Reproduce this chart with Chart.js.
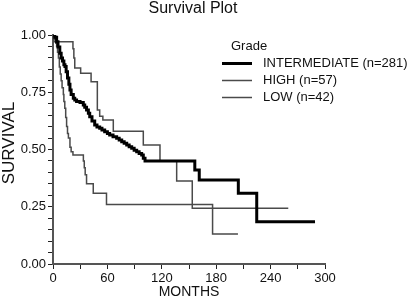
<!DOCTYPE html>
<html>
<head>
<meta charset="utf-8">
<script src="https://cdn.jsdelivr.net/npm/chart.js@4.4.1/dist/chart.umd.min.js"></script>
<style>
  html, body { margin: 0; padding: 0; background: #fff; }
  canvas { display: block; }
</style>
</head>
<body>
<canvas id="chart" width="408" height="299"></canvas>
<script>
// Kaplan-Meier steps: month of each drop and survival after it
const intMonths = [0, 2, 4, 5.5, 7.5, 9, 10.5, 12, 13.2, 14.5, 16, 17.5, 18.7, 20, 22.4, 24, 26, 29.8,
                   33.4, 35, 37, 39, 40.5, 43, 46, 48.5, 51.5, 54, 57, 60, 62.5, 66.2, 70.2, 73, 75.8,
                   78.5, 81.3, 84, 86.8, 89.5, 92.3, 95, 97.8, 99.6, 101.5, 156.4, 161.3, 204.4, 224.7, 289];
const intSurv   = [1.0, 0.99, 0.97, 0.948, 0.92, 0.90, 0.886, 0.87, 0.862, 0.84, 0.812, 0.785, 0.76, 0.74,
                   0.724, 0.716, 0.710, 0.705, 0.694, 0.684, 0.672, 0.658, 0.643, 0.624, 0.607, 0.598, 0.593,
                   0.585, 0.578, 0.57, 0.563, 0.556, 0.549, 0.541, 0.534, 0.527, 0.520, 0.512, 0.505, 0.497,
                   0.490, 0.483, 0.476, 0.462, 0.450, 0.410, 0.367, 0.309, 0.185, 0.185];

const highMonths = [0, 2, 3, 4, 5, 6, 7, 8, 9, 10, 11.4, 12, 13, 14, 15, 16, 17, 18.7, 20, 22,
                    33.5, 34.5, 35.5, 37, 44.4, 59, 176, 204];
const highSurv   = [1.0, 0.98, 0.965, 0.95, 0.925, 0.90, 0.86, 0.83, 0.80, 0.77, 0.74, 0.71, 0.68, 0.64,
                    0.60, 0.57, 0.55, 0.51, 0.49, 0.476, 0.45, 0.42, 0.39, 0.35, 0.309, 0.26, 0.131, 0.131];

const lowMonths = [0, 1, 22, 23, 24, 30.5, 42, 48.9, 51.5, 55, 66.5, 99.6, 118, 136.4, 153.6, 259.5];
const lowSurv   = [1.0, 0.971, 0.94, 0.90, 0.856, 0.833, 0.796, 0.672, 0.645, 0.629, 0.58, 0.52, 0.45,
                   0.362, 0.243, 0.243];

const seriesLabels = ['INTERMEDIATE (n=281)', 'HIGH (n=57)', 'LOW (n=42)'];
const legendTitle  = 'Grade';
const chartTitle   = 'Survival Plot';
const yTitle       = 'SURVIVAL';

const FONT = "'Liberation Sans', Arial, Helvetica, sans-serif";

const toPoints = (xs, ys) => xs.map((x, i) => ({ x, y: ys[i] }));

function kmDataset(label, xs, ys, width, color) {
    return {
        label,
        data:        toPoints(xs, ys),
        borderColor: color,
        borderWidth: width,
        pointRadius: 0,
        stepped:     'before',
        fill:        false,
    };
}

// title, y title and the "Grade" legend drawn by hand, like the original print layout
const annotations = {
    id: 'annotations',
    afterDraw(chart) {
        const ctx = chart.ctx;
        ctx.save();
        ctx.fillStyle    = '#111';
        ctx.textBaseline = 'middle';
        ctx.textAlign    = 'center';
        ctx.font         = `16px ${FONT}`;
        ctx.fillText(chartTitle, 193, 9);

        ctx.save();
        ctx.translate(9, 143);
        ctx.rotate(-Math.PI / 2);
        ctx.font = `17px ${FONT}`;
        ctx.fillText(yTitle, 0, 0);
        ctx.restore();

        ctx.textAlign = 'left';
        ctx.font      = `13px ${FONT}`;
        ctx.fillText(legendTitle, 231, 46);

        const rowY = [63.5, 80.5, 97.5];
        chart.data.datasets.forEach((ds, i) => {
            ctx.strokeStyle = ds.borderColor;
            ctx.lineWidth   = ds.borderWidth;
            ctx.beginPath();
            ctx.moveTo(222, rowY[i]);
            ctx.lineTo(252, rowY[i]);
            ctx.stroke();
            ctx.fillText(ds.label, 263, rowY[i]);
        });
        ctx.restore();
    }
};

new Chart(document.getElementById('chart'), {
    type: 'line',
    data: {
        datasets: [
            kmDataset(seriesLabels[0], intMonths, intSurv, 3, '#000'),
            kmDataset(seriesLabels[1], highMonths, highSurv, 1.5, '#4a4a4a'),
            kmDataset(seriesLabels[2], lowMonths, lowSurv, 1.5, '#4a4a4a'),
        ],
    },
    options: {
        responsive: false,
        animation:  false,
        layout:     { padding: { top: 35, right: 83, left: 0, bottom: 0 } },
        plugins: {
            legend:  { display: false },
            title:   { display: false },
            tooltip: { enabled: false },
        },
        scales: {
            x: {
                type: 'linear',
                min: 0, max: 300,
                afterFit: s => { s.height = 35; },
                grid:   { drawOnChartArea: false, drawTicks: true, tickLength: 5, color: '#222' },
                border: { color: '#555', width: 2 },
                ticks: {
                    stepSize: 30, autoSkip: false, maxRotation: 0, padding: 2,
                    color: '#111', font: { family: FONT, size: 13 },
                    callback: v => (v % 60 === 0 ? v : ''),
                },
                title: {
                    display: true, text: 'MONTHS', color: '#111',
                    font: { family: FONT, size: 14, lineHeight: 1 }, padding: 0,
                },
            },
            y: {
                min: 0, max: 1,
                afterFit: s => { s.width = 53; },
                grid:   { drawOnChartArea: false, drawTicks: true, tickLength: 5, color: '#222' },
                border: { color: '#555', width: 2 },
                ticks: {
                    stepSize: 0.05, autoSkip: false, padding: 2,
                    color: '#111', font: { family: FONT, size: 13 },
                    callback: v => (Math.abs(v * 4 - Math.round(v * 4)) < 1e-6 ? v.toFixed(2) : ''),
                },
            },
        },
    },
    plugins: [annotations],
});
</script>
</body>
</html>
